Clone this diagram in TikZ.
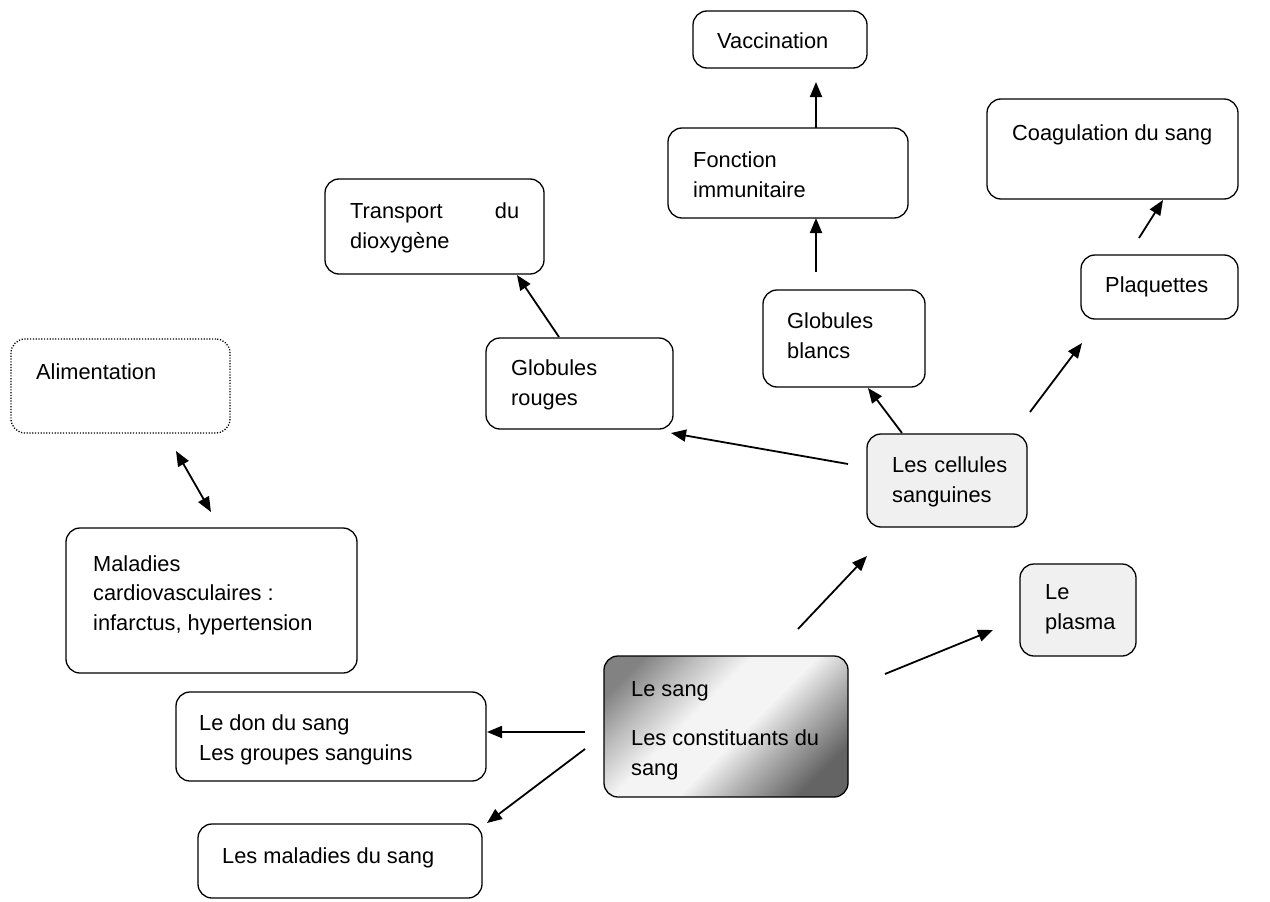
\documentclass[tikz,border=0pt]{standalone}
\usepackage{fontspec}
\setmainfont{Liberation Sans}
\usetikzlibrary{arrows.meta}
\definecolor{cellfill}{RGB}{240,240,240}
\definecolor{shadedark}{RGB}{130,130,130}
\definecolor{shademid}{RGB}{190,190,190}
\definecolor{shadelight}{RGB}{244,244,244}
\definecolor{shademid2}{RGB}{175,175,175}
\definecolor{shadedark2}{RGB}{100,100,100}
\pgfdeclareverticalshading{sangshade}{100bp}{color(0bp)=(shadedark2); color(24bp)=(shadedark2); color(36bp)=(shademid2); color(46bp)=(shadelight); color(58bp)=(shadelight); color(68bp)=(shademid); color(78bp)=(shadedark); color(100bp)=(shadedark)}
\begin{document}
\begin{tikzpicture}[x=1pt,y=-1pt,
  box/.style={draw=black, line width=1.3pt, rounded corners=14pt, inner sep=0pt},
  dotbox/.style={box, dash pattern=on 1.2pt off 1.6pt},
  greybox/.style={box, fill=cellfill},
  txt/.style={anchor=base west, inner sep=0pt, align=left, font=\fontsize{21.8}{29.5}\selectfont},
  arr/.style={line width=1.8pt, -{Triangle[length=15pt,width=12pt]}},
  darr/.style={line width=1.8pt, {Triangle[length=15pt,width=12pt]}-{Triangle[length=15pt,width=12pt]}},
]
\useasboundingbox (0,0) rectangle (1270,902);

% boxes
\node[box, minimum width=174pt, minimum height=57pt] (vacc) at (780,39.5) {};
\node[box, minimum width=240pt, minimum height=90pt] (fonc) at (788,173) {};
\node[box, minimum width=251pt, minimum height=100pt] (coag) at (1112.5,149) {};
\node[box, minimum width=219pt, minimum height=95pt] (transp) at (434.5,226.5) {};
\node[box, minimum width=157pt, minimum height=64pt] (plaq) at (1159.5,287) {};
\node[box, minimum width=162pt, minimum height=97pt] (blancs) at (844,338.5) {};
\node[box, minimum width=187pt, minimum height=91pt] (rouges) at (579.5,383.5) {};
\node[dotbox, minimum width=219pt, minimum height=94pt] (alim) at (120.5,386) {};
\node[greybox, minimum width=160pt, minimum height=93pt] (cell) at (947,480.5) {};
\node[box, minimum width=291pt, minimum height=145pt] (malad) at (211.5,600.5) {};
\node[greybox, minimum width=116pt, minimum height=92pt] (plasma) at (1078,610) {};
\node[box, minimum width=244pt, minimum height=141pt, shading=sangshade,
      shading angle=45] (sang) at (726,726.5) {};
\node[box, minimum width=310pt, minimum height=89pt] (don) at (331,736.5) {};
\node[box, minimum width=284pt, minimum height=74pt] (maldsang) at (340,861) {};

% texts (anchor at baseline of last line)
\node[txt] (t-vacc) at (717,48) {Vaccination};
\node[txt] (t-fonc) at (693,197) {Fonction\\immunitaire};
\node[txt] (t-coag) at (1012,140) {Coagulation du sang};
\node[txt] (t-transp) at (350,248) {\makebox[169pt]{Transport\hfill du}\\dioxygène};
\node[txt] (t-plaq) at (1105,292) {Plaquettes};
\node[txt] (t-blancs) at (787,358) {Globules\\blancs};
\node[txt] (t-rouges) at (511,405) {Globules\\rouges};
\node[txt] (t-alim) at (36,379) {Alimentation};
\node[txt] (t-cell) at (892,502) {\makebox[115pt]{Les\hfill cellules}\\sanguines};
\node[txt] (t-malad) at (93,630) {Maladies\\cardiovasculaires :\\infarctus, hypertension};
\node[txt] (t-plasma) at (1045,629) {Le\\plasma};
\node[txt] (t-sang) at (631,775) {Le sang\\[20pt]Les constituants du\\sang};
\node[txt] (t-don) at (199,760) {Le don du sang\\Les groupes sanguins};
\node[txt] (t-maldsang) at (222,863) {Les maladies du sang};

% connector end points
\coordinate (a1s) at (816,128);  \coordinate (a1e) at (816,82);
\coordinate (a2s) at (816,272);  \coordinate (a2e) at (816,218);
\coordinate (a3s) at (1139,238); \coordinate (a3e) at (1163,200);
\coordinate (a4s) at (559,337);  \coordinate (a4e) at (517,275);
\coordinate (a5s) at (902,433);  \coordinate (a5e) at (868,388);
\coordinate (a6s) at (848,464);  \coordinate (a6e) at (671,433);
\coordinate (a7s) at (1030,412); \coordinate (a7e) at (1082,343);
\coordinate (a8s) at (176,451);  \coordinate (a8e) at (211,512);
\coordinate (a9s) at (798,629);  \coordinate (a9e) at (867,556);
\coordinate (a10s) at (885,674); \coordinate (a10e) at (993,630);
\coordinate (a11s) at (585,732); \coordinate (a11e) at (487,732);
\coordinate (a12s) at (585,749); \coordinate (a12e) at (487,823);

\draw[arr] (a1s) -- (a1e);
\draw[arr] (a2s) -- (a2e);
\draw[arr] (a3s) -- (a3e);
\draw[arr] (a4s) -- (a4e);
\draw[arr] (a5s) -- (a5e);
\draw[arr] (a6s) -- (a6e);
\draw[arr] (a7s) -- (a7e);
\draw[darr] (a8s) -- (a8e);
\draw[arr] (a9s) -- (a9e);
\draw[arr] (a10s) -- (a10e);
\draw[arr] (a11s) -- (a11e);
\draw[arr] (a12s) -- (a12e);
\end{tikzpicture}
\end{document}
